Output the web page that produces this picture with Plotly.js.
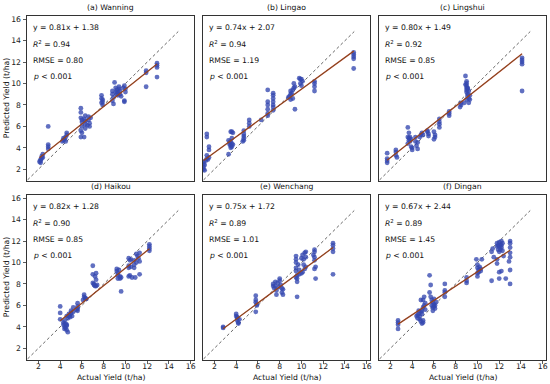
<!DOCTYPE html>
<html><head><meta charset="utf-8">
<script src="https://cdn.plot.ly/plotly-3.0.1.min.js"></script>
<style>html,body{margin:0;padding:0;background:#fff}#chart{width:550px;height:384px}</style>
</head><body><div id="chart"></div>
<script>
const panelTitles = ["(a) Wanning", "(b) Lingao", "(c) Lingshui", "(d) Haikou", "(e) Wenchang", "(f) Dingan"];
const fitSlope = [0.81, 0.74, 0.80, 0.82, 0.75, 0.67];
const fitIntercept = [1.38, 2.07, 1.49, 1.28, 1.72, 2.44];
const r2Values = ["0.94", "0.94", "0.92", "0.90", "0.89", "0.89"];
const rmseValues = ["0.80", "1.19", "0.85", "0.85", "1.01", "1.45"];
const pText = "&lt; 0.001";
const diagLine = [1.0, 14.85];
const tickValues = [2, 4, 6, 8, 10, 12, 14, 16];
const xTitle = "Actual Yield (t/ha)";
const yTitle = "Predicted Yield (t/ha)";

const wanningActual = [2.1,2.2,2.2,2.3,2.3,2.4,2.4,2.2, 2.9,2.9,2.9,2.9, 4.2,4.3,4.3,4.4,4.5,4.6,4.6,4.5,
 5.9,5.9,5.9,6.0,6.0,6.0,5.9,6.0,5.9,6.3,6.3,6.3,6.3,6.2,6.6,6.6,6.7,6.7,6.5,6.8,6.2,
 7.8,7.8,7.9,7.9,7.8,7.9,
 8.8,8.8,8.9,8.8,8.9,9.0,9.1,9.2,9.3,9.4,9.5,9.5,9.6,9.4,9.2,10.0,10.0,9.9,9.9,9.8,9.9,9.1,9.3,
 11.9,11.9,11.9, 12.9,12.9,12.9,12.9];
const wanningPred = [2.7,2.6,2.9,3.0,3.2,3.4,3.1,2.8, 6.0,4.3,4.1,3.9, 4.6,4.7,4.9,4.8,5.0,5.2,5.4,4.6,
 7.7,7.3,6.8,6.6,6.4,6.0,5.6,5.4,5.0,7.0,6.5,6.2,5.8,5.0,6.9,6.6,6.3,6.0,6.1,6.8,6.7,
 8.9,8.6,8.3,8.0,8.2,8.5,
 9.3,9.0,8.7,8.4,8.1,10.1,9.6,9.4,9.2,9.5,9.3,9.0,8.8,9.7,9.0,9.5,9.2,8.3,8.4,9.6,9.8,9.2,8.9,
 11.2,11.0,9.7, 11.9,11.7,11.5,10.6];

const lingaoActual = [1.0,1.0,1.0,1.0,1.1,1.1,1.2,1.3,1.3,1.4,1.5,1.5,1.5,1.3,1.3,
 3.5,3.6,3.7,3.3,3.4,3.4,3.5,3.6,3.5,3.6,3.7,3.3,3.6,3.5,
 4.7,4.7,4.7,4.7,4.7,4.6, 5.2,5.2,5.2, 6.3,
 6.9,6.9,6.9,6.9,6.9,6.9, 7.4,7.4,7.4,7.4,7.4,7.4,7.4,
 8.8,8.9,9.0,9.0,9.1,9.2,9.3,9.2,9.0,9.4,9.4,9.3,
 9.8,9.9,10.0,9.9,10.0,10.1, 11.2,11.2,11.2,11.2, 14.8,14.8,14.8,14.8,14.8];
const lingaoPred = [2.0,2.2,2.5,2.7,1.9,2.4,2.8,3.3,3.0,2.9,3.1,3.8,4.1,5.0,5.3,
 5.5,5.5,5.4,4.7,4.5,4.3,4.2,4.1,4.0,4.4,4.3,3.4,4.9,4.6,
 5.6,5.3,5.1,4.9,4.7,4.6, 6.6,6.3,6.0, 6.6,
 9.4,8.3,8.0,7.6,7.2,7.0, 9.1,8.9,8.6,8.3,8.0,7.8,7.5,
 8.7,8.8,9.0,9.3,9.1,9.4,9.6,8.6,8.5,9.7,7.6,10.0,
 10.5,10.4,10.4,10.0,9.8,10.2, 10.2,10.0,9.7,9.3, 12.9,12.7,12.5,12.3,11.4];

const lingshuiActual = [1.7,1.7,1.7,1.7, 2.5,2.5,2.5,2.6,
 3.6,3.7,3.6,3.7,3.8,3.9,3.8,3.6,3.9,4.0,4.0,3.7, 4.3,4.4,4.5,4.5,4.3, 4.7,4.8,4.9,5.0,
 5.4,5.5,5.5,5.4, 6.0,6.1,6.1,6.0, 6.5,6.5,6.5,6.5, 7.4,7.4,7.4, 8.5,8.5,8.4,
 8.9,9.0,9.0,9.0,9.0,9.0,9.0,9.1,9.1,9.2,9.2,9.3,9.1,9.0,8.8,9.2,9.3,8.9,9.1,
 14.1,14.1,14.1,14.1,14.1];
const lingshuiPred = [3.5,3.0,2.8,2.6, 3.8,3.6,3.3,3.1,
 5.9,5.4,5.0,4.9,5.0,4.8,4.6,4.4,4.1,3.8,4.0,4.7, 4.6,4.2,3.9,4.5,5.0, 5.0,5.2,5.4,5.2,
 5.6,5.3,5.1,5.5, 5.5,5.2,5.0,4.8, 6.7,6.4,6.2,5.9, 7.4,7.2,7.0, 8.2,8.0,7.8,
 10.7,10.2,10.0,9.8,9.6,9.4,9.2,9.0,8.8,8.6,9.3,8.9,9.6,8.5,8.2,8.2,8.5,9.9,9.5,
 12.4,12.2,12.0,11.8,9.3];

const haikouActual = [4.0,4.0,4.0,4.3,4.3,4.4,4.4,4.5,4.6,4.6,4.7,4.5,4.6,4.4,4.7,4.8,4.8,4.9,5.0,5.1,5.2,5.2,5.0,4.6,4.9,
 5.6,5.6,5.6,5.6,5.5, 6.2,6.2,6.3,6.3,6.4,6.1,
 7.0,7.0,7.0,7.1,7.2,7.3,7.3,7.3,7.4,7.1,7.2,
 9.2,9.2,9.3,9.3,9.4,9.5,9.5,9.6,9.6,9.3,
 10.3,10.4,10.3,10.3,10.5,10.5,10.4,10.6,10.3,
 10.8,10.8,10.8,10.9,11.0,11.1,11.2,11.3,11.3,11.3,11.0,
 12.2,12.2,12.2,12.2];
const haikouPred = [5.9,5.3,4.7,4.4,4.2,4.0,3.8,3.9,4.1,4.2,3.5,4.3,3.7,4.6,4.8,5.0,5.2,5.1,5.3,5.0,5.4,5.8,5.5,5.0,4.9,
 6.2,5.9,5.7,5.5,5.6, 7.0,6.8,6.6,6.7,6.6,6.5,
 9.7,8.9,8.1,7.9,7.8,9.0,8.4,7.8,7.9,8.0,8.7,
 9.4,9.2,9.0,8.8,9.3,8.7,8.5,8.6,7.3,8.5,
 10.4,10.2,9.7,9.5,10.3,9.6,8.8,8.6,8.7,
 10.2,9.8,9.5,8.6,10.8,10.6,10.4,10.9,10.1,8.9,10.0,
 11.7,11.5,11.3,11.1];

const wenchangActual = [2.8,2.8,
 4.0,4.0,4.1,4.1,4.2,4.2,4.3,4.1,
 5.8,5.8,5.8,5.9,5.9,5.8,
 7.4,7.4,7.5,7.6,7.6,7.7,7.7,7.8,8.0,8.0,8.1,8.2,8.2,8.3,8.3,7.9,
 9.5,9.5,9.5,9.5,9.5,9.6,9.6,9.6,9.6,9.7,9.8,9.8,9.5,
 10.0,10.1,10.2,10.3,10.4,10.4,10.2,10.1,10.3,10.0,10.4,
 11.2,11.2,11.1,11.2,11.2,11.3,11.2,11.3,
 12.9,12.9,12.9,12.9,12.9];
const wenchangPred = [3.9,4.0,
 5.2,5.0,4.8,4.6,4.4,4.3,4.7,4.9,
 6.9,6.5,6.3,6.1,6.0,5.4,
 8.0,7.8,7.6,7.8,8.2,7.4,7.0,8.1,8.3,8.5,7.9,7.6,7.2,7.0,7.5,7.7,
 10.6,10.3,10.0,9.5,9.2,8.8,8.5,8.2,6.8,9.8,9.3,8.9,8.6,
 10.4,10.7,10.3,10.9,11.0,10.5,9.8,9.1,9.4,9.0,9.6,
 11.2,11.0,10.7,10.5,10.2,9.6,9.4,8.5,
 11.8,11.6,11.3,11.0,8.9];

const dinganActual = [2.7,2.7,2.7,2.7,
 4.4,4.5,4.5,4.6,4.7,4.8,4.9,4.7,4.8,4.9,5.0,4.6,5.0,5.1,5.2,5.0,5.1,4.8,4.9,5.2,5.0,
 5.6,5.7,5.6,5.7,5.8,5.9,6.0,6.0,6.1,6.1,5.9,6.2,5.8,6.0,5.9,
 7.0,7.0,7.0,7.0, 9.0,9.0,9.0,
 9.9,10.0,10.0,10.1,10.0,10.1,10.2,10.3,10.0,10.4,10.3,
 11.8,11.9,12.0,12.0,12.1,12.2,12.2,12.3,12.1,11.9,12.0,12.3,11.8,12.2,
 13.0,13.0,13.0,13.0,13.0,13.0,13.0,12.9,
 11.5,11.8,11.8,12.0,12.2,12.0,11.3,12.6,12.4,11.4,11.3];
const dinganPred = [4.6,4.4,4.2,3.8,
 5.0,5.1,4.8,5.2,5.0,5.4,5.5,4.7,4.5,4.3,4.6,5.5,5.8,6.0,6.2,6.5,6.8,6.5,5.2,5.6,4.4,
 8.8,7.9,7.2,6.8,6.5,6.3,6.1,5.9,6.0,5.7,5.8,6.3,6.0,6.6,5.5,
 8.0,7.4,7.2,6.8, 8.6,8.3,8.1,
 10.3,9.8,9.5,9.3,9.0,9.1,9.6,9.2,8.7,10.3,9.4,
 11.8,11.6,11.5,11.9,11.7,11.4,11.6,11.8,11.2,11.2,11.0,11.1,11.5,12.0,
 12.0,11.8,11.4,10.9,10.5,9.3,8.0,10.1,
 10.5,10.3,9.9,9.1,9.2,8.5,8.3,8.5,10.6,11.3,11.0];

const actualSets = [wanningActual, lingaoActual, lingshuiActual, haikouActual, wenchangActual, dinganActual];
const predSets = [wanningPred, lingaoPred, lingshuiPred, haikouPred, wenchangPred, dinganPred];

const W = 550, H = 384;
const colPx = [[27, 194], [203, 370], [379, 546]];
const rowPx = [[16, 180.5], [195, 359.5]];
const axisRange = [0.95, 16.3];
const FONT = "DejaVu Sans, Liberation Sans, sans-serif";
const FS = 7.7;

const traces = [];
const layout = {
  width: W, height: H, margin: {l: 0, r: 0, t: 0, b: 0},
  paper_bgcolor: "#fff", plot_bgcolor: "#fff", showlegend: false,
  font: {family: FONT, size: FS, color: "#222"},
  annotations: []
};

for (let i = 0; i < 6; i++) {
  const col = i % 3, row = Math.floor(i / 3);
  const sfx = i === 0 ? "" : String(i + 1);
  const xa = "x" + sfx, ya = "y" + sfx;
  const xs = actualSets[i], ys = predSets[i];
  const xmin = Math.min(...xs), xmax = Math.max(...xs);

  traces.push({type: "scatter", mode: "lines", x: diagLine, y: diagLine, xaxis: xa, yaxis: ya,
    line: {color: "#555", width: 0.9, dash: "3px,2.5px"}, hoverinfo: "skip"});
  traces.push({type: "scatter", mode: "markers", x: xs, y: ys, xaxis: xa, yaxis: ya,
    marker: {size: 4.8, color: "#3548b0", opacity: 0.78, line: {width: 0}}});
  const fx = [xmin, xmax];
  const fy = fx.map(v => fitSlope[i] * v + fitIntercept[i]);
  traces.push({type: "scatter", mode: "lines", x: fx, y: fy, xaxis: xa, yaxis: ya,
    line: {color: "#b83220", width: 1.3}, hoverinfo: "skip"});
  traces.push({type: "scatter", mode: "lines", x: fx, y: fy, xaxis: xa, yaxis: ya,
    line: {color: "#2f7a22", width: 0.8}, opacity: 0.5, hoverinfo: "skip"});

  const bottom = row === 1, left = col === 0;
  layout["xaxis" + sfx] = {
    domain: [colPx[col][0] / W, colPx[col][1] / W], range: axisRange, anchor: ya,
    showline: true, mirror: true, linecolor: "#333", linewidth: 1,
    showgrid: false, zeroline: false, tickvals: tickValues,
    ticks: bottom ? "outside" : "", ticklen: 3.5, tickwidth: 0.8, tickcolor: "#333",
    ticklabelstandoff: -4,
    showticklabels: bottom, tickfont: {family: FONT, size: FS, color: "#222"}, fixedrange: true
  };
  layout["yaxis" + sfx] = {
    domain: [1 - rowPx[row][1] / H, 1 - rowPx[row][0] / H], range: axisRange, anchor: xa,
    showline: true, mirror: true, linecolor: "#333", linewidth: 1,
    showgrid: false, zeroline: false, tickvals: tickValues,
    ticks: left ? "outside" : "", ticklen: 3.5, tickwidth: 0.8, tickcolor: "#333",
    showticklabels: left, tickfont: {family: FONT, size: FS, color: "#222"}, fixedrange: true
  };

  const lines = [
    "y = " + fitSlope[i].toFixed(2) + "x + " + fitIntercept[i].toFixed(2),
    "<i>R</i><sup>2</sup> = " + r2Values[i],
    "RMSE = " + rmseValues[i],
    "<i>p</i> " + pText
  ];
  const yfr = [0.929, 0.830, 0.730, 0.632];
  lines.forEach((t, k) => layout.annotations.push({
    xref: xa + " domain", yref: ya + " domain", x: 0.024, y: yfr[k],
    xanchor: "left", yanchor: "middle", text: t, showarrow: false,
    font: {family: FONT, size: FS, color: "#111"}
  }));
  layout.annotations.push({
    xref: xa + " domain", yref: ya + " domain", x: 0.5, y: 1, yshift: 8.5,
    xanchor: "center", yanchor: "middle", text: panelTitles[i], showarrow: false,
    font: {family: FONT, size: FS, color: "#111"}
  });
  if (bottom) layout.annotations.push({
    xref: "paper", yref: "paper", x: (colPx[col][0] + colPx[col][1]) / 2 / W, y: 1 - 377.5 / H,
    xanchor: "center", yanchor: "middle", text: xTitle, showarrow: false,
    font: {family: FONT, size: FS, color: "#111"}
  });
  if (left) layout.annotations.push({
    xref: "paper", yref: "paper", x: 6 / W, y: 1 - (rowPx[row][0] + rowPx[row][1]) / 2 / H,
    xanchor: "center", yanchor: "middle", textangle: -90, text: yTitle, showarrow: false,
    font: {family: FONT, size: FS, color: "#111"}
  });
}

Plotly.newPlot("chart", traces, layout, {staticPlot: true, displayModeBar: false});
</script></body></html>
